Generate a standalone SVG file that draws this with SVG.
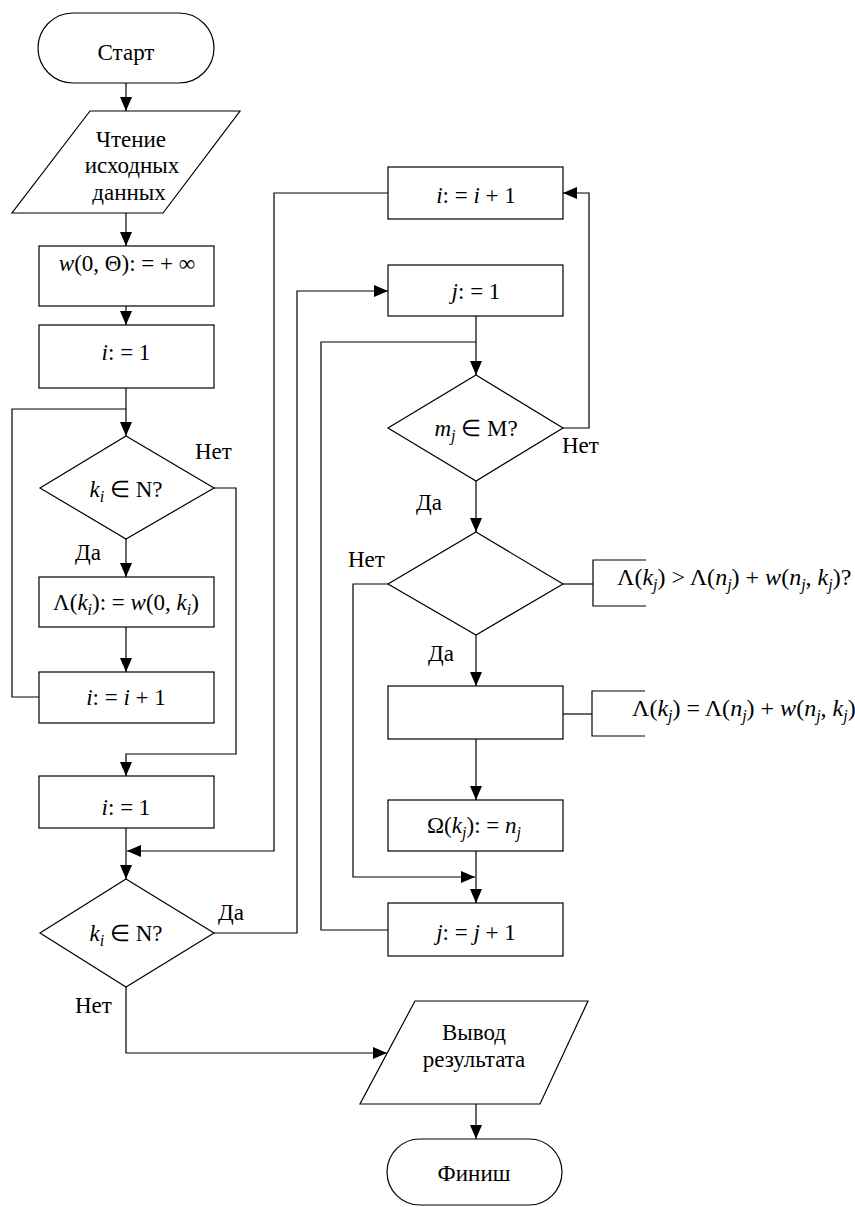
<svg xmlns="http://www.w3.org/2000/svg" width="855" height="1207" viewBox="0 0 855 1207">
<style>
.s{fill:#fff;stroke:#000;stroke-width:1.2}
.c{fill:none;stroke:#000;stroke-width:1.2}
text{font-family:"Liberation Serif","Times New Roman",serif;font-size:23px;fill:#000}
.m{text-anchor:middle}
.i{font-style:italic}
.b{font-size:16px;font-style:italic}
.f{font-size:24px}
</style>
<defs>
<marker id="a" markerUnits="userSpaceOnUse" markerWidth="14" markerHeight="12" refX="14" refY="6" orient="auto">
<path d="M0,0 L14,6 L0,12 Z" fill="#000"/>
</marker>
</defs>
<rect width="855" height="1207" fill="#fff"/>
<g id="connectors">
<path class="c" d="M126,83 V111" marker-end="url(#a)"/>
<path class="c" d="M126,213 V246" marker-end="url(#a)"/>
<path class="c" d="M126,306 V325" marker-end="url(#a)"/>
<path class="c" d="M126,388 V436" marker-end="url(#a)"/>
<path class="c" d="M39,697 H12 V409 H126"/>
<path class="c" d="M126,539 V577" marker-end="url(#a)"/>
<path class="c" d="M126,627 V672" marker-end="url(#a)"/>
<path class="c" d="M214,488 H236 V754 H126 V776" marker-end="url(#a)"/>
<path class="c" d="M126,828 V879" marker-end="url(#a)"/>
<path class="c" d="M388,193 H274 V851 H127" marker-end="url(#a)"/>
<path class="c" d="M214,933 H297 V291 H388" marker-end="url(#a)"/>
<path class="c" d="M476,316 V375" marker-end="url(#a)"/>
<path class="c" d="M388,930 H321 V342 H476"/>
<path class="c" d="M563,428 H589 V193 H563" marker-end="url(#a)"/>
<path class="c" d="M476,481 V532" marker-end="url(#a)"/>
<path class="c" d="M388,584 H353 V877 H475" marker-end="url(#a)"/>
<path class="c" d="M476,635 V686" marker-end="url(#a)"/>
<path class="c" d="M476,739 V800" marker-end="url(#a)"/>
<path class="c" d="M476,851 V903" marker-end="url(#a)"/>
<path class="c" d="M126,987 V1053 H387" marker-end="url(#a)"/>
<path class="c" d="M476,1104 V1139" marker-end="url(#a)"/>
<path class="c" d="M563,584 H593"/>
<path class="c" d="M646,560 H593 V606 H646"/>
<path class="c" d="M563,714 H592"/>
<path class="c" d="M645,691 H592 V736 H645"/>
</g>
<g id="labels">
<text x="195" y="459">Нет</text>
<text x="75" y="560">Да</text>
<text x="218" y="920">Да</text>
<text x="562" y="453">Нет</text>
<text x="416" y="510">Да</text>
<text x="348" y="567">Нет</text>
<text x="428" y="661">Да</text>
<text x="75" y="1013">Нет</text>
</g>
<g id="start">
<rect class="s" x="38" y="13" width="176" height="70" rx="35" ry="35"/>
<text class="m" x="126" y="60">Старт</text>
</g>
<g id="read">
<polygon class="s" points="90,111 240,111 163,213 12,213"/>
<text class="m" x="131" y="147">Чтение</text>
<text class="m" x="132" y="173">исходных</text>
<text class="m" x="129" y="200">данных</text>
</g>
<g id="init-w">
<rect class="s" x="39" y="246" width="175" height="60"/>
<text class="m" x="127" y="271"><tspan class="i">w</tspan>(0, Θ): = + ∞</text>
</g>
<g id="i1a">
<rect class="s" x="39" y="325" width="175" height="63"/>
<text class="m" x="126" y="360"><tspan class="i">i</tspan>: = 1</text>
</g>
<g id="cond1">
<polygon class="s" points="126,436 214,488 126,539 40,488"/>
<text class="m" x="126" y="497"><tspan class="i">k</tspan><tspan class="b" dy="5">i</tspan><tspan dy="-5"> ∈ N?</tspan></text>
</g>
<g id="lambda-init">
<rect class="s" x="39" y="577" width="175" height="50"/>
<text class="m" x="126" y="610">Λ(<tspan class="i">k</tspan><tspan class="b" dy="5">i</tspan><tspan dy="-5">): = </tspan><tspan class="i">w</tspan>(0, <tspan class="i">k</tspan><tspan class="b" dy="5">i</tspan><tspan dy="-5">)</tspan></text>
</g>
<g id="inc-i-a">
<rect class="s" x="39" y="672" width="175" height="51"/>
<text class="m" x="126" y="705"><tspan class="i">i</tspan>: = <tspan class="i">i</tspan> + 1</text>
</g>
<g id="i1b">
<rect class="s" x="39" y="776" width="175" height="52"/>
<text class="m" x="126" y="815"><tspan class="i">i</tspan>: = 1</text>
</g>
<g id="cond2">
<polygon class="s" points="126,879 214,933 126,987 40,933"/>
<text class="m" x="126" y="941"><tspan class="i">k</tspan><tspan class="b" dy="5">i</tspan><tspan dy="-5"> ∈ N?</tspan></text>
</g>
<g id="inc-i-b">
<rect class="s" x="388" y="167" width="175" height="52"/>
<text class="m" x="476" y="203"><tspan class="i">i</tspan>: = <tspan class="i">i</tspan> + 1</text>
</g>
<g id="j1">
<rect class="s" x="388" y="265" width="175" height="51"/>
<text class="m" x="476" y="299"><tspan class="i">j</tspan>: = 1</text>
</g>
<g id="cond3">
<polygon class="s" points="476,375 563,428 476,481 388,428"/>
<text class="m" x="476" y="436"><tspan class="i">m</tspan><tspan class="b" dy="5">j</tspan><tspan dy="-5"> ∈ M?</tspan></text>
</g>
<g id="cond4">
<polygon class="s" points="476,532 563,584 476,635 388,584"/>
<text class="f" x="617" y="585">Λ(<tspan class="i">k</tspan><tspan class="b" dy="5">j</tspan><tspan dy="-5">) &gt; Λ(</tspan><tspan class="i">n</tspan><tspan class="b" dy="5">j</tspan><tspan dy="-5">) + </tspan><tspan class="i">w</tspan>(<tspan class="i">n</tspan><tspan class="b" dy="5">j</tspan><tspan dy="-5">, </tspan><tspan class="i">k</tspan><tspan class="b" dy="5">j</tspan><tspan dy="-5">)?</tspan></text>
</g>
<g id="update">
<rect class="s" x="388" y="686" width="175" height="53"/>
<text class="f" x="632" y="716">Λ(<tspan class="i">k</tspan><tspan class="b" dy="5">j</tspan><tspan dy="-5">) = Λ(</tspan><tspan class="i">n</tspan><tspan class="b" dy="5">j</tspan><tspan dy="-5">) + </tspan><tspan class="i">w</tspan>(<tspan class="i">n</tspan><tspan class="b" dy="5">j</tspan><tspan dy="-5">, </tspan><tspan class="i">k</tspan><tspan class="b" dy="5">j</tspan><tspan dy="-5">)</tspan></text>
</g>
<g id="omega">
<rect class="s" x="388" y="800" width="175" height="51"/>
<text class="m" x="474" y="833">Ω(<tspan class="i">k</tspan><tspan class="b" dy="5">j</tspan><tspan dy="-5">): = </tspan><tspan class="i">n</tspan><tspan class="b" dy="5">j</tspan></text>
</g>
<g id="inc-j">
<rect class="s" x="388" y="903" width="175" height="53"/>
<text class="m" x="476" y="940"><tspan class="i">j</tspan>: = <tspan class="i">j</tspan> + 1</text>
</g>
<g id="output">
<polygon class="s" points="415,1001 588,1001 540,1104 360,1104"/>
<text class="m" x="474" y="1040">Вывод</text>
<text class="m" x="474" y="1067">результата</text>
</g>
<g id="finish">
<rect class="s" x="387" y="1139" width="175" height="66" rx="33" ry="33"/>
<text class="m" x="474" y="1181">Финиш</text>
</g>
</svg>
